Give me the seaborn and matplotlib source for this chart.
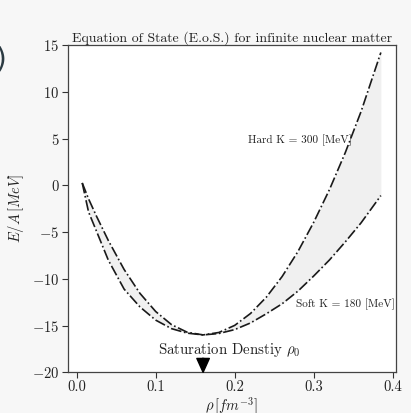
import numpy as np
import pandas as pd
import matplotlib
matplotlib.use("Agg")
import matplotlib.pyplot as plt
import seaborn as sns

# Data
rho = [0.007, 0.015, 0.025, 0.04, 0.06, 0.08, 0.10, 0.12, 0.14, 0.16, 0.18,
       0.20, 0.22, 0.24, 0.26, 0.28, 0.30, 0.32, 0.34, 0.36, 0.385]
e_hard = [0.25, -1.45, -3.3, -5.9, -9.0, -11.55, -13.5, -14.9, -15.72, -16.0,
          -15.74, -14.98, -13.71, -11.97, -9.76, -7.09, -3.96, -0.45, 3.5, 7.9, 14.2]
e_soft = [0.25, -2.85, -4.9, -8.0, -11.1, -13.0, -14.42, -15.33, -15.81, -16.0,
          -15.85, -15.43, -14.72, -13.74, -12.67, -11.32, -9.7, -7.98, -6.05, -4.01, -1.1]

title = "Equation of State (E.o.S.) for infinite nuclear matter"
hard_label = "Hard K = 300 [MeV]"
soft_label = "Soft K = 180 [MeV]"
sat_label = r"Saturation Denstiy $\rho_0$"
rho0 = 0.16
x_ticks = [0.0, 0.1, 0.2, 0.3, 0.4]
y_ticks = [-20, -15, -10, -5, 0, 5, 10, 15]

sns.set_theme(style="white")
plt.rcParams["font.family"] = ["serif"]
plt.rcParams["font.serif"] = ["cmr10"]
plt.rcParams["mathtext.fontset"] = "cm"
plt.rcParams["axes.formatter.use_mathtext"] = True
plt.rcParams["axes.unicode_minus"] = True

fig = plt.figure(figsize=(4.11, 4.13), dpi=100, facecolor="#f7f7f7")
ax = fig.add_axes([0.1647, 0.0985, 0.9628 - 0.1647, 0.891 - 0.0985])
ax.set_facecolor("white")

df = pd.DataFrame({"rho": rho, "hard": e_hard, "soft": e_soft})
ax.fill_between(df["rho"], df["soft"], df["hard"], color="#f0f0f0", lw=0, zorder=1)
sns.lineplot(data=df, x="rho", y="hard", ax=ax, color="#1a1a1a", linestyle="-.", lw=1.2, zorder=3)
sns.lineplot(data=df, x="rho", y="soft", ax=ax, color="#1a1a1a", linestyle="-.", lw=1.2, zorder=3)

ax.set_xlim(-0.0114, 0.4038)
ax.set_ylim(-20, 15)
ax.set_xticks(x_ticks)
ax.set_yticks(y_ticks)
ax.set_xticklabels([f"{v:.1f}" for v in x_ticks])
ax.set_yticklabels([f"${v}$" for v in y_ticks])
ax.tick_params(axis="both", which="both", direction="out", length=4, width=0.8,
               colors="#333333", labelsize=10.5, left=True, bottom=True, pad=2)
for lab in ax.get_xticklabels() + ax.get_yticklabels():
    lab.set_color("#222222")
for s in ax.spines.values():
    s.set_color("#444444")
    s.set_linewidth(0.9)

ax.set_title(title, fontsize=10, pad=2, color="#222222")
ax.set_xlabel(r"$\rho\,[fm^{-3}]$", fontsize=10.5, labelpad=1, color="#222222")
ax.set_ylabel(r"$E/A\,[MeV]$", fontsize=10.5, labelpad=4, color="#222222")

ax.text(0.217, 4.47, hard_label, fontsize=8.1, color="#222222")
ax.text(0.278, -13.0, soft_label, fontsize=8.1, color="#222222")
ax.text(0.103, -18.08, sat_label, fontsize=10.7, color="#222222")
ax.annotate("", xy=(rho0, -20.0), xytext=(rho0, -18.5),
            arrowprops=dict(facecolor="black", edgecolor="black", width=0.8,
                            headwidth=9, headlength=10, shrink=0.0))

fig.text(0.016, 0.857, ")", fontsize=20, color="#2b3a42", ha="right", va="center",
         family="DejaVu Sans")

fig.savefig("out.png", dpi=100, facecolor=fig.get_facecolor())
